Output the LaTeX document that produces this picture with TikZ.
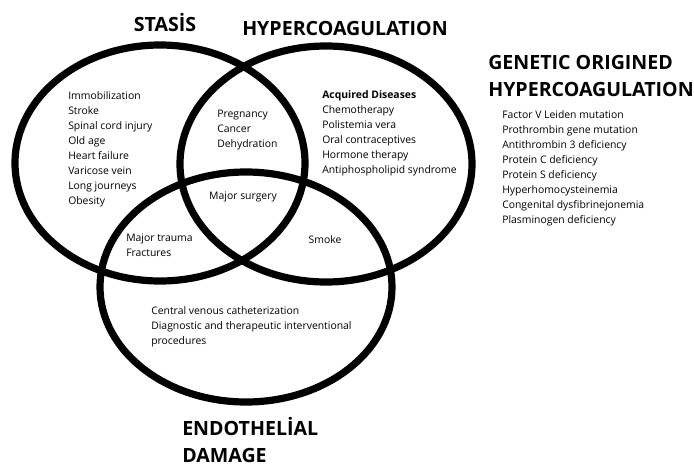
\documentclass[tikz,border=0pt]{standalone}
\usepackage{fontspec}
\setmainfont{Open Sans}
\pgfdeclarelayer{bg}
\pgfsetlayers{bg,main}
\tikzset{
  ring/.style={line width=5.4pt},
  item/.style={anchor=west, align=left, inner sep=0pt, font=\fontsize{7.8}{11.25}\selectfont},
  head/.style={inner sep=0pt, font=\fontsize{14.7}{20.25}\selectfont\bfseries},
}
\begin{document}
\begin{tikzpicture}[x=0.75pt, y=-0.75pt]
        \useasboundingbox (0,0) rectangle (694,465);
        \node (h0) [head, anchor=base] at (165,31) {STASİS};
        \node (h1) [head, anchor=base] at (345,35) {HYPERCOAGULATION};
        \node (h2) [head, anchor=west, align=left] at (488,76) {GENETIC ORIGINED\\HYPERCOAGULATION};
        \node (h3) [head, anchor=west, align=left] at (182,440) {ENDOTHELİAL\\DAMAGE};
        \node (s0) [item] at (68,149.5) {Immobilization\\Stroke\\Spinal cord injury\\Old age\\Heart failure\\Varicose vein\\Long journeys\\Obesity};
        \node (s1) [item] at (217,130) {Pregnancy\\Cancer\\Dehydration};
        \node (s2) [item, anchor=center] at (243,197) {Major surgery};
        \node (s3) [item] at (126,245.5) {Major trauma\\Fractures};
        \node (a0) [item] at (322,133.5) {\textbf{Acquired Diseases}\\Chemotherapy\\Polistemia vera\\Oral contraceptives\\Hormone therapy\\Antiphospholipid syndrome};
        \node (a1) [item, anchor=center] at (325,240) {Smoke};
        \node (e0) [item] at (151,326.5) {Central venous catheterization\\Diagnostic and therapeutic interventional\\procedures};
        \node (g0) [item] at (502,168.5) {Factor V Leiden mutation\\Prothrombin gene mutation\\Antithrombin 3 deficiency\\Protein C deficiency\\Protein S deficiency\\Hyperhomocysteinemia\\Congenital dysfibrinejonemia\\Plasminogen deficiency};
        \begin{pgfonlayer}{bg}
                \draw [ring] (160,163) ellipse [x radius=145, y radius=118];
                \draw [ring] (326,164) ellipse [x radius=146, y radius=118];
                \draw [ring] (246,287) ellipse [x radius=146, y radius=115];
        \end{pgfonlayer}
\end{tikzpicture}
\end{document}
